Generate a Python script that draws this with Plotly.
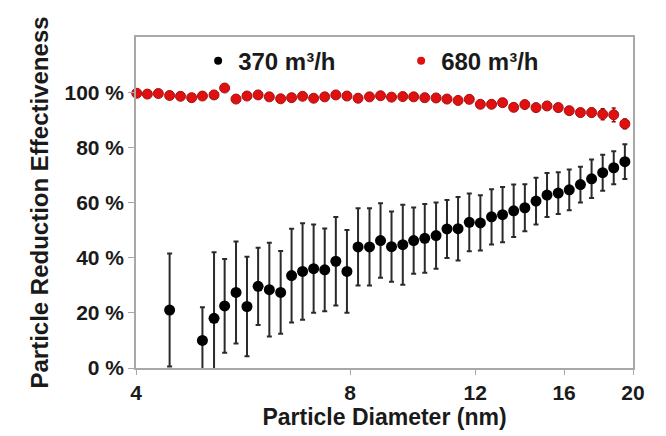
import math
import plotly.graph_objects as go

# Particle diameters (nm), 64 channels per decade
diam_370 = [4.46, 4.96, 5.15, 5.33, 5.53, 5.73, 5.94, 6.16, 6.39, 6.62, 6.86, 7.11,
            7.37, 7.64, 7.92, 8.21, 8.52, 8.83, 9.15, 9.49, 9.83, 10.19, 10.57,
            10.95, 11.35, 11.77, 12.20, 12.65, 13.11, 13.59, 14.09, 14.61, 15.14,
            15.70, 16.27, 16.87, 17.49, 18.13, 18.79, 19.48]
eff_370 = [21, 10, 18, 22.5, 27.4, 22.3, 29.6, 28.4, 27.4, 33.5, 35, 36, 35.6, 38.7,
           35, 43.9, 43.9, 46.2, 44, 44.7, 46.2, 47, 48, 50.4, 50.5, 52.8, 52.6,
           54.8, 55.6, 57, 58.1, 60.5, 62.7, 63.4, 64.6, 66.5, 68.6, 70.8, 72.6, 74.8]
err_370 = [20.5, 12, 24, 17, 18.5, 18, 14, 17, 15, 17, 17.5, 16, 15, 16, 15, 14, 14,
           13.5, 12.7, 14.5, 12, 12.5, 12, 10.5, 11.5, 10.5, 10, 10, 10, 9.5, 8.5,
           8.5, 8, 7.6, 7.4, 6.5, 7, 6.5, 6, 6.3]

diam_680 = [4.01, 4.15, 4.30, 4.46, 4.62, 4.79, 4.96, 5.15, 5.33, 5.53, 5.73, 5.94,
            6.16, 6.39, 6.62, 6.86, 7.11, 7.37, 7.64, 7.92, 8.21, 8.52, 8.83, 9.15,
            9.49, 9.83, 10.19, 10.57, 10.95, 11.35, 11.77, 12.20, 12.65, 13.11,
            13.59, 14.09, 14.61, 15.14, 15.70, 16.27, 16.87, 17.49, 18.13, 18.79, 19.48]
eff_680 = [99.6, 99.3, 99.5, 98.8, 98.5, 98.0, 98.6, 99.0, 101.5, 97.5, 98.6, 99.0,
           98.3, 97.6, 98.0, 98.5, 97.8, 98.3, 99.0, 98.6, 97.8, 98.3, 98.7, 98.2,
           98.4, 98.3, 98.0, 97.9, 97.5, 97.0, 97.4, 95.6, 95.6, 96.2, 94.5, 95.5,
           94.4, 95.0, 94.4, 93.3, 92.6, 92.6, 92.0, 91.8, 88.5]
err_680 = [0.5, 0.5, 0.5, 0.5, 0.5, 0.5, 0.5, 0.5, 0.8, 0.5, 0.5, 0.5, 0.5, 0.5, 0.5,
           0.5, 0.5, 0.5, 0.5, 0.5, 0.5, 0.5, 0.5, 0.6, 0.6, 0.6, 0.6, 0.6, 0.7, 0.7,
           0.7, 0.8, 0.8, 0.8, 0.9, 0.9, 1.0, 1.0, 1.0, 1.2, 1.4, 1.6, 2.0, 2.5, 1.8]

x_ticks = [4, 8, 12, 16, 20]
y_ticks = [0, 20, 40, 60, 80, 100]
y_ticktext = ["0 %", "20 %", "40 %", "60 %", "80 %", "100 %"]

FONT = "Liberation Sans, Arial, sans-serif"

fig = go.Figure()
fig.add_trace(go.Scatter(
    x=diam_370, y=eff_370, mode="markers", name="370 m\u00b3/h", showlegend=False,
    marker=dict(color="black", size=11),
    error_y=dict(type="data", array=err_370, color="#2a2a2a", thickness=2, width=2.5),
))
fig.add_trace(go.Scatter(
    x=diam_680, y=eff_680, mode="markers", name="680 m\u00b3/h", showlegend=False,
    marker=dict(color="#e01010", size=10, line=dict(color="#a81010", width=1)),
    error_y=dict(type="data", array=err_680, color="#8a1010", thickness=1.5, width=2),
    cliponaxis=False,
))
# legend entries with small dots
fig.add_trace(go.Scatter(x=[None], y=[None], mode="markers", name="370 m\u00b3/h",
                         marker=dict(color="black", size=8)))
fig.add_trace(go.Scatter(x=[None], y=[None], mode="markers", name="680 m\u00b3/h",
                         marker=dict(color="#e01010", size=8)))

fig.update_layout(
    width=666, height=436,
    margin=dict(l=136, r=33, t=37, b=68),
    paper_bgcolor="white", plot_bgcolor="white",
    font=dict(family=FONT, color="#1a1a1a"),
    showlegend=True,
    legend=dict(orientation="h", x=0.125, xanchor="left", y=0.995, yanchor="top",
                font=dict(size=24, family=FONT, color="#1a1a1a", weight="bold"),
                bgcolor="rgba(0,0,0,0)", entrywidth=158, itemsizing="trace",
                itemwidth=30),
    xaxis=dict(type="log", range=[math.log10(4), math.log10(20)],
               tickvals=x_ticks, ticktext=[str(v) for v in x_ticks],
               showgrid=False, zeroline=False, showline=True, mirror=True,
               linecolor="#a8a8a8", linewidth=1.5, ticks="outside", ticklen=5,
               tickcolor="#a8a8a8",
               tickfont=dict(size=21, family=FONT, weight="bold"),
               title=dict(text="Particle Diameter (nm)", standoff=2,
                          font=dict(size=23, family=FONT, weight="bold"))),
    yaxis=dict(range=[0, 120], tickvals=y_ticks, ticktext=y_ticktext,
               showgrid=False, zeroline=False, showline=True, mirror=True,
               linecolor="#a8a8a8", linewidth=1.5, ticks="outside", ticklen=6,
               tickcolor="#a8a8a8",
               tickfont=dict(size=21, family=FONT, weight="bold"),
               title=dict(text="Particle Reduction Effectiveness", standoff=9,
                          font=dict(size=24, family=FONT, weight="bold"))),
)

fig.write_html("out.html")
